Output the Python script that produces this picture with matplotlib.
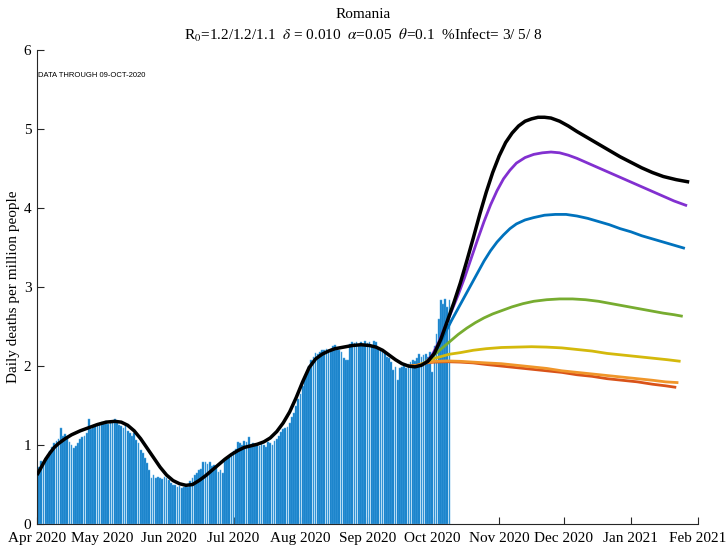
import numpy as np
import matplotlib
matplotlib.use("Agg")
import matplotlib.pyplot as plt
import matplotlib.dates as mdates

plt.rcParams['font.family'] = ['Liberation Serif', 'DejaVu Serif']
plt.rcParams['mathtext.fontset'] = 'stix'

# ---------------- data ----------------
start_date = np.datetime64('2020-04-01')

daily_deaths = [
    0.62, 0.72, 0.80, 0.80, 0.83, 0.88, 0.93, 0.98, 1.02, 1.05,
    1.08, 1.21, 1.12, 1.14, 1.10, 1.04, 1.00, 0.96, 0.99, 1.03,
    1.08, 1.10, 1.12, 1.15, 1.33, 1.20, 1.24, 1.26, 1.27, 1.28,
    1.29, 1.28, 1.30, 1.27, 1.29, 1.30, 1.33, 1.28, 1.26, 1.24,
    1.22, 1.27, 1.18, 1.15, 1.12, 1.15, 1.06, 1.02, 0.94, 0.90,
    0.84, 0.77, 0.68, 0.58, 0.62, 0.58, 0.60, 0.58, 0.57, 0.60,
    0.58, 0.56, 0.52, 0.50, 0.49, 0.47, 0.48, 0.46, 0.47, 0.49,
    0.47, 0.55, 0.58, 0.62, 0.65, 0.68, 0.70, 0.78, 0.78, 0.76,
    0.79, 0.74, 0.75, 0.72, 0.66, 0.68, 0.65, 0.80, 0.85, 0.86,
    0.88, 0.92, 0.95, 1.04, 1.02, 1.00, 1.05, 1.04, 1.10, 1.00,
    1.02, 1.01, 1.00, 0.99, 1.02, 1.00, 0.98, 1.04, 1.02, 1.00,
    1.05, 1.08, 1.12, 1.17, 1.20, 1.22, 1.23, 1.28, 1.35, 1.40,
    1.50, 1.58, 1.65, 1.75, 1.86, 1.92, 2.00, 2.08, 2.12, 2.16,
    2.15, 2.18, 2.20, 2.20, 2.21, 2.20, 2.22, 2.25, 2.27, 2.22,
    2.20, 2.18, 2.10, 2.08, 2.08, 2.28, 2.30, 2.29, 2.31, 2.27,
    2.30, 2.28, 2.32, 2.29, 2.31, 2.26, 2.32, 2.30, 2.23, 2.22,
    2.18, 2.16, 2.11, 2.10, 2.05, 1.95, 1.99, 1.82, 1.98, 1.99,
    2.00, 1.97, 2.02, 2.05, 2.08, 2.06, 2.10, 2.15, 2.12, 2.14,
    2.15, 2.12, 2.18, 1.92, 2.25, 2.40, 2.60, 2.84, 2.78, 2.85,
    2.75, 2.84,
]

# model curves: day offsets from 1-Apr-2020 and values
black_days = [0, 2, 4, 6, 8, 10, 13, 16, 20, 24, 28, 32, 36, 39, 42, 45, 48,
              51, 54, 57, 60, 63, 66, 69, 72, 75, 78, 81, 84, 87, 90, 93, 96,
              99, 102, 105, 108, 111, 114, 117, 120, 123, 126, 129, 132, 135,
              138, 142, 146, 150, 154, 157, 160, 163, 166, 169, 172, 175, 178,
              181, 184, 187, 190, 193, 196, 199, 202, 205, 208, 211, 214, 217,
              220, 223, 226, 229, 232, 235, 238, 242, 246, 250, 255, 260, 265,
              270, 275, 280, 285, 290, 296, 302]
black_vals = [0.62, 0.72, 0.82, 0.90, 0.97, 1.02, 1.08, 1.13, 1.18, 1.22,
              1.26, 1.29, 1.30, 1.29, 1.25, 1.18, 1.08, 0.96, 0.84, 0.72,
              0.62, 0.55, 0.51, 0.49, 0.50, 0.55, 0.61, 0.68, 0.75, 0.82,
              0.88, 0.93, 0.97, 0.99, 1.01, 1.04, 1.09, 1.17, 1.28, 1.42,
              1.60, 1.80, 1.98, 2.09, 2.15, 2.19, 2.22, 2.24, 2.26, 2.27,
              2.26, 2.24, 2.20, 2.14, 2.08, 2.03, 2.00, 1.99, 2.01, 2.06,
              2.16, 2.34, 2.57, 2.80, 3.05, 3.33, 3.62, 3.92, 4.20, 4.45,
              4.66, 4.83, 4.95, 5.04, 5.10, 5.13, 5.15, 5.15, 5.14, 5.10,
              5.04, 4.97, 4.89, 4.81, 4.73, 4.65, 4.58, 4.51, 4.45, 4.40,
              4.36, 4.33]

purple_days = [180, 183, 186, 189, 192, 195, 198, 201, 204, 207, 210, 213,
               216, 219, 222, 226, 230, 234, 238, 242, 246, 250, 255, 260,
               265, 270, 275, 280, 285, 290, 295, 301]
purple_vals = [2.04, 2.14, 2.30, 2.50, 2.70, 2.90, 3.12, 3.36, 3.60, 3.83,
               4.04, 4.22, 4.37, 4.48, 4.57, 4.64, 4.68, 4.70, 4.71, 4.70,
               4.67, 4.63, 4.57, 4.51, 4.45, 4.39, 4.33, 4.27, 4.21, 4.15,
               4.09, 4.03]

blue_days = [180, 183, 186, 189, 192, 195, 198, 201, 204, 207, 210, 213, 216,
             219, 222, 226, 230, 235, 240, 245, 250, 255, 260, 265, 270, 275,
             280, 285, 290, 295, 300]
blue_vals = [2.04, 2.12, 2.26, 2.42, 2.58, 2.73, 2.88, 3.03, 3.18, 3.33,
             3.46, 3.57, 3.66, 3.74, 3.80, 3.85, 3.88, 3.91, 3.92, 3.92,
             3.90, 3.87, 3.83, 3.79, 3.74, 3.70, 3.65, 3.61, 3.57, 3.53,
             3.49]

green_days = [180, 183, 186, 189, 192, 195, 199, 203, 207, 211, 215, 220,
              225, 230, 236, 242, 248, 254, 260, 266, 272, 278, 284, 290,
              295, 299]
green_vals = [2.06, 2.12, 2.19, 2.26, 2.33, 2.40, 2.48, 2.55, 2.61, 2.66,
              2.70, 2.75, 2.79, 2.82, 2.84, 2.85, 2.85, 2.84, 2.82, 2.79,
              2.76, 2.73, 2.70, 2.67, 2.65, 2.63]

yellow_days = [177, 180, 183, 187, 191, 196, 202, 208, 215, 222, 229, 236,
               243, 250, 257, 264, 271, 278, 285, 292, 298]
yellow_vals = [2.01, 2.05, 2.09, 2.12, 2.15, 2.17, 2.20, 2.22, 2.235, 2.24,
               2.245, 2.24, 2.23, 2.21, 2.19, 2.16, 2.14, 2.12, 2.10, 2.08,
               2.06]

orange_days = [172, 176, 180, 184, 190, 196, 202, 208, 215, 222, 229, 236,
               243, 250, 257, 264, 271, 278, 285, 291, 297]
orange_vals = [2.00, 2.01, 2.04, 2.06, 2.065, 2.06, 2.05, 2.04, 2.03, 2.01,
               1.99, 1.97, 1.94, 1.92, 1.90, 1.88, 1.86, 1.84, 1.82, 1.80,
               1.79]

red_days = [172, 176, 180, 184, 190, 196, 202, 208, 215, 222, 229, 236, 243,
            250, 257, 264, 271, 278, 285, 291, 296]
red_vals = [2.00, 2.01, 2.04, 2.05, 2.055, 2.05, 2.04, 2.02, 2.00, 1.98,
            1.96, 1.94, 1.92, 1.89, 1.87, 1.84, 1.82, 1.80, 1.77, 1.75, 1.73]

month_ticks = ['2020-04-01', '2020-05-01', '2020-06-01', '2020-07-01',
               '2020-08-01', '2020-09-01', '2020-10-01', '2020-11-01',
               '2020-12-01', '2021-01-01', '2021-02-01']

title_line1 = "Romania"
title_line2 = (r"R$_0$=1.2/1.2/1.1  $\delta$ = 0.010  $\alpha$=0.05  "
               r"$\theta$=0.1  %Infect= 3/ 5/ 8")
ylabel = "Daily deaths per million people"
data_note = "DATA THROUGH 09-OCT-2020"

# ---------------- plot ----------------
def to_dates(days):
    return start_date + np.array(days, dtype='timedelta64[D]')

fig = plt.figure(figsize=(7.27, 5.45), dpi=100)
ax = fig.add_axes([0.0509, 0.0385, 0.909, 0.8695])

bar_dates = start_date + np.arange(len(daily_deaths)).astype('timedelta64[D]')
ax.bar(bar_dates, daily_deaths, width=0.8, color='#0a78c4',
       edgecolor='#5aaee8', linewidth=0.35, zorder=2)

series = [
    (red_days, red_vals, '#D95319', 2.0),
    (orange_days, orange_vals, '#F0962A', 2.0),
    (yellow_days, yellow_vals, '#D4B90C', 2.0),
    (green_days, green_vals, '#77AC30', 2.0),
    (blue_days, blue_vals, '#0072BD', 2.0),
    (purple_days, purple_vals, '#8230D0', 2.0),
    (black_days, black_vals, '#000000', 2.5),
]
for d, v, c, lw in series:
    ax.plot(to_dates(d), v, color=c, lw=lw, zorder=3,
            solid_capstyle='butt', solid_joinstyle='round')

ax.set_xlim(np.datetime64('2020-04-01'), np.datetime64('2021-02-01'))
ax.set_ylim(0, 6)
ax.set_xticks(np.array(month_ticks, dtype='datetime64[D]'))
ax.xaxis.set_major_formatter(mdates.DateFormatter('%b %Y'))
ax.set_yticks(range(0, 7))

for s in ['top', 'right']:
    ax.spines[s].set_visible(False)
for s in ['left', 'bottom']:
    ax.spines[s].set_linewidth(0.8)
    ax.spines[s].set_color('#262626')
ax.tick_params(direction='in', length=5, width=0.8, colors='#262626',
               labelsize=11, labelcolor='black')
ax.tick_params(axis='x', pad=6)
ax.tick_params(axis='y', pad=4)

ax.set_ylabel(ylabel, fontsize=11, labelpad=3)
fig.text(0.5, 0.985, title_line1, ha='center', va='top', fontsize=11)
fig.text(0.5, 0.950, title_line2, ha='center', va='top', fontsize=11)

ax.text(0.002, 5.68, data_note, transform=ax.get_yaxis_transform(),
        fontsize=5.5, family=['Liberation Sans', 'DejaVu Sans'],
        va='center', ha='left')

fig.savefig('out.png', dpi=100)
